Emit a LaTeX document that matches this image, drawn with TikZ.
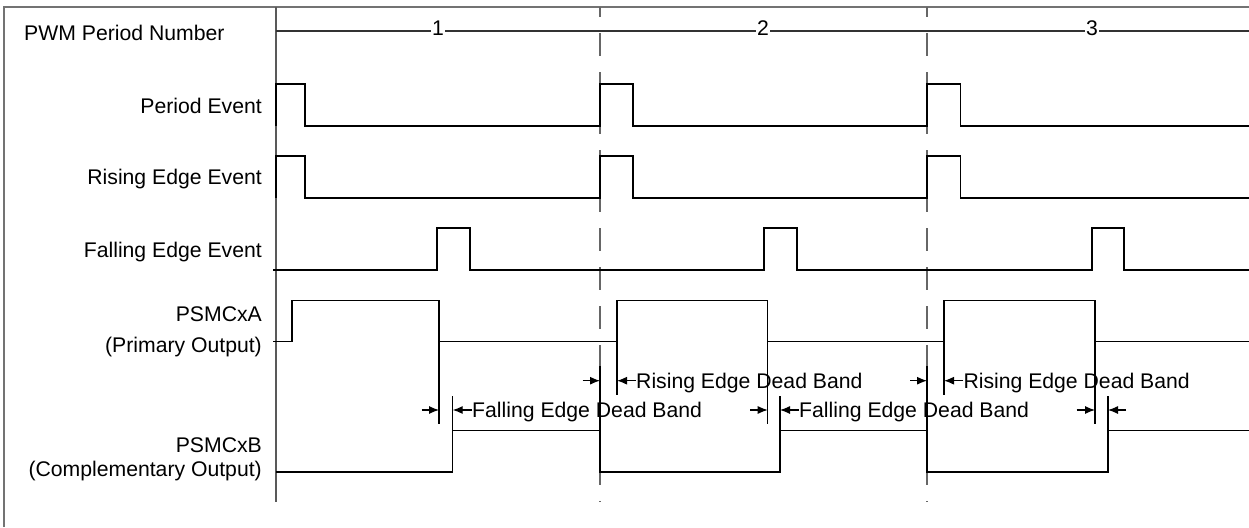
\documentclass[tikz,border=0pt]{standalone}
\usepackage{fontspec}
\setmainfont{Liberation Sans}
\usetikzlibrary{arrows.meta}
\begin{document}
\begin{tikzpicture}[x=1pt,y=-1pt,
  font=\fontsize{21.2}{25}\selectfont,
  sig/.style={line width=1.3pt, black, line join=miter},
  framel/.style={line width=1.5pt, black!55},
  axisl/.style={line width=1.4pt, black!65},
  dashl/.style={line width=1.4pt, black!60, dash pattern=on 23pt off 16pt, dash phase=13pt},
  db/.style={line width=1.1pt, -{Latex[length=10pt,width=8pt]}},
  lbl/.style={anchor=base east, inner sep=0pt},
  txt/.style={anchor=base west, inner sep=0pt},
  num/.style={fill=white, inner sep=1.5pt, anchor=base}]
\useasboundingbox (0,0) rectangle (1249,527);

% frame
\draw[framel] (4,527) -- (4,7) -- (1249,7);
% axis and period boundaries
\draw[axisl] (276,7) -- (276,502);
\draw[dashl] (600,7) -- (600,502);
\draw[dashl] (927,7) -- (927,502);

% labels
\node[inner sep=0pt, anchor=base west] (lpwm) at (24,40.7) {PWM Period Number};
\node[lbl] (lper) at (262,113.3) {Period Event};
\node[lbl] (lrise) at (262,184.7) {Rising Edge Event};
\node[lbl] (lfall) at (262,257.3) {Falling Edge Event};
\node[lbl] (la1) at (262,321) {PSMCxA};
\node[lbl] (la2) at (262,352.3) {(Primary Output)};
\node[lbl] (lb1) at (262,452.3) {PSMCxB\ };
\node[lbl] (lb2) at (262,476.7) {(Complementary Output)};

% PWM period number line
\draw[line width=1.3pt, black!80] (276,31) -- (1249,31);
\node[num] (n1) at (438,36) {1};
\node[num] (n2) at (763,36) {2};
\node[num] (n3) at (1092,36) {3};

% Period Event
\draw[sig] (276,126) -- (276,84) -- (305,84) -- (305,126) -- (600,126) -- (600,84) -- (633,84) -- (633,126)
  -- (927,126) -- (927,84) -- (960.5,84) -- (960.5,126) -- (1249,126);
% Rising Edge Event
\draw[sig] (276,198) -- (276,156) -- (305,156) -- (305,198) -- (600,198) -- (600,156) -- (633,156) -- (633,198)
  -- (927,198) -- (927,156) -- (960.5,156) -- (960.5,198) -- (1249,198);
% Falling Edge Event
\draw[sig] (273,270) -- (437,270) -- (437,228) -- (470,228) -- (470,270) -- (764,270) -- (764,228) -- (797,228)
  -- (797,270) -- (1092,270) -- (1092,228) -- (1124,228) -- (1124,270) -- (1249,270);

% PSMCxA
\draw[sig] (273,341.7) -- (292,341.7) -- (292,300.7) -- (439,300.7) -- (439,341.7) -- (617,341.7) -- (617,300.7)
  -- (767.7,300.7) -- (767.7,341.7) -- (944,341.7) -- (944,300.7) -- (1095,300.7) -- (1095,341.7) -- (1249,341.7);
% PSMCxB
\draw[sig] (276,472) -- (452.7,472) -- (452.7,430.7) -- (600,430.7) -- (600,472) -- (780,472) -- (780,430.7)
  -- (927,430.7) -- (927,472) -- (1108,472) -- (1108,430.7) -- (1249,430.7);

% extension lines for dead bands
\draw[line width=1.2pt] (439,341.7) -- (439,424);
\draw[line width=1.2pt] (767.7,341.7) -- (767.7,424);
\draw[line width=1.2pt] (1095,341.7) -- (1095,424);
\draw[line width=1.2pt] (617,341.7) -- (617,395);
\draw[line width=1.2pt] (944,341.7) -- (944,395);
\draw[line width=1.2pt] (452.7,430.7) -- (452.7,395.7);
\draw[line width=1.2pt] (780,430.7) -- (780,395.7);
\draw[line width=1.2pt] (1108,430.7) -- (1108,395.7);
\draw[line width=1.2pt] (600,430.7) -- (600,366);
\draw[line width=1.2pt] (927,430.7) -- (927,366);

% dead band texts
\node[txt] (fd1) at (472,417.7) {Falling Edge Dead Band};
\node[txt] (fd2) at (799,417.7) {Falling Edge Dead Band};
\node[txt] (rd1) at (636,388.3) {Rising Edge Dead Band};
\node[txt] (rd2) at (963.3,388.3) {Rising Edge Dead Band};

% dead band arrow coordinates
\coordinate (f1a) at (421.7,410); \coordinate (f1b) at (439,410);
\coordinate (f1c) at (452.7,410);
\coordinate (f2a) at (750,410);   \coordinate (f2b) at (767.7,410);
\coordinate (f2c) at (780,410);
\coordinate (f3a) at (1076.7,410); \coordinate (f3b) at (1095,410);
\coordinate (f3c) at (1108,410);  \coordinate (f3d) at (1126,410);
\coordinate (r1a) at (582.7,380.7); \coordinate (r1b) at (600,380.7);
\coordinate (r1c) at (617,380.7);
\coordinate (r2a) at (910,380.7);  \coordinate (r2b) at (927,380.7);
\coordinate (r2c) at (944,380.7);

\draw[db] (f1a) -- (f1b);
\draw[db] (fd1.west |- f1c) -- (f1c);
\draw[db] (f2a) -- (f2b);
\draw[db] (fd2.west |- f2c) -- (f2c);
\draw[db] (f3a) -- (f3b);
\draw[db] (f3d) -- (f3c);
\draw[db] (r1a) -- (r1b);
\draw[db] (rd1.west |- r1c) -- (r1c);
\draw[db] (r2a) -- (r2b);
\draw[db] (rd2.west |- r2c) -- (r2c);
\end{tikzpicture}
\end{document}
